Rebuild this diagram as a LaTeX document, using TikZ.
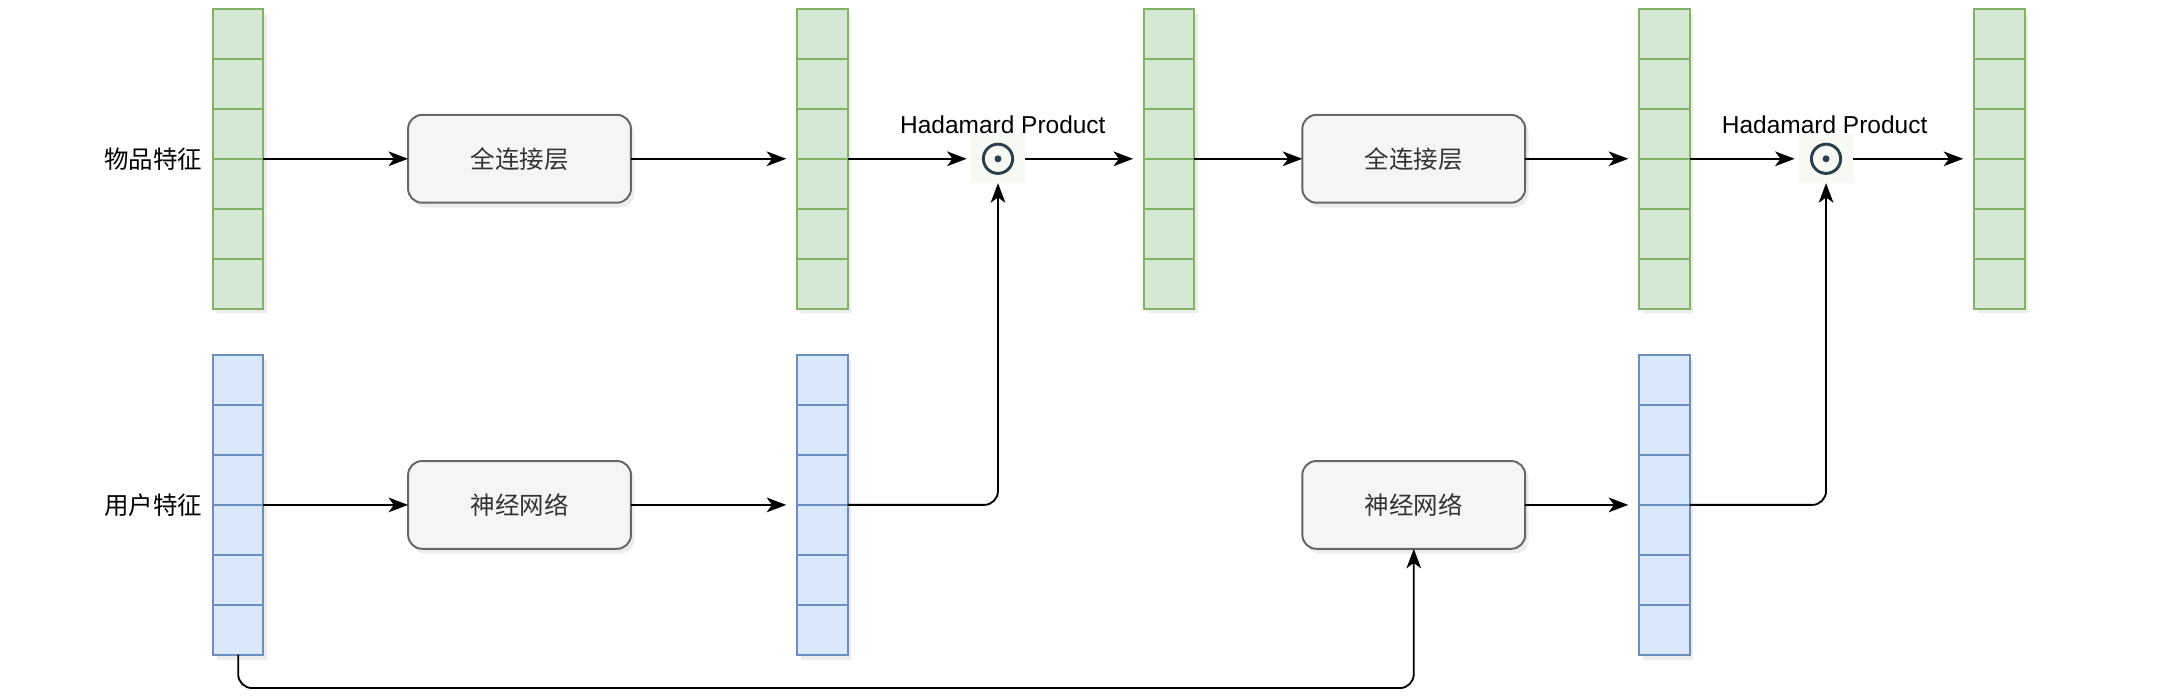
\documentclass[tikz,border=0pt]{standalone}
\usepackage{fontspec}
\setmainfont{Liberation Sans}
\newfontfamily\cjk{Noto Sans CJK SC}
\usetikzlibrary{arrows.meta,shadows}
\definecolor{gfill}{HTML}{D5E8D4}
\definecolor{gline}{HTML}{82B366}
\definecolor{bfill}{HTML}{DAE8FC}
\definecolor{bline}{HTML}{6C8EBF}
\definecolor{kfill}{HTML}{F5F5F5}
\definecolor{kline}{HTML}{666666}
\definecolor{ktext}{HTML}{333333}
\definecolor{odotc}{HTML}{2B3F4A}
\definecolor{odotbg}{HTML}{F7F9F5}
\tikzset{
  golge/.style={drop shadow={shadow xshift=0.05cm, shadow yshift=-0.07cm, opacity=0.15}},
  vec/.style={draw, line width=0.8pt, minimum width=0.72cm, minimum height=4.3cm,
    inner sep=0pt, outer sep=0pt, golge},
  gvec/.style={vec, draw=gline, fill=gfill},
  bvec/.style={vec, draw=bline, fill=bfill},
  katman/.style={draw=kline, fill=kfill, text=ktext, line width=0.8pt,
    rounded corners=0.2cm, minimum width=3.2cm, minimum height=1.26cm,
    outer sep=0pt, font=\cjk, golge},
  carpim/.style={fill=odotbg, minimum width=0.78cm, minimum height=0.7cm,
    inner sep=0pt, outer sep=0pt,
    path picture={
      \draw[odotc, line width=1.2pt] (path picture bounding box.center) circle (0.21cm);
      \fill[odotc] (path picture bounding box.center) circle (0.05cm);}},
  ok/.style={-{Stealth[length=8pt, width=6pt, inset=2.2pt]}, line width=0.75pt},
  okv/.style={ok, shorten >=0.16cm}
}
\begin{document}
\begin{tikzpicture}[font=\fontsize{10}{12}\selectfont]
  \useasboundingbox (0,0) rectangle (31.36,-10.02);
  % vektorler
  \node[gvec] (g1) at (3.42,-2.28) {};
  \node[gvec] (g2) at (11.81,-2.28) {};
  \node[gvec] (g3) at (16.79,-2.28) {};
  \node[gvec] (g4) at (23.90,-2.28) {};
  \node[gvec] (g5) at (28.71,-2.28) {};
  \node[bvec] (b1) at (3.42,-7.25) {};
  \node[bvec] (b2) at (11.81,-7.25) {};
  \node[bvec] (b3) at (23.90,-7.25) {};
  \foreach \v/\c in {g1/gline,g2/gline,g3/gline,g4/gline,g5/gline,b1/bline,b2/bline,b3/bline}
    \foreach \k in {1,...,5}
      \draw[\c, line width=0.8pt] ([yshift=-\k*0.7167cm]\v.north west)
        -- ([yshift=-\k*0.7167cm]\v.north east);
  % girdiler
  \node (lg) at (2.2,-2.28) {\cjk 物品特征};
  \node (lb) at (2.2,-7.25) {\cjk 用户特征};
  % katmanlar
  \node[katman] (fc1) at (7.46,-2.28) {全连接层};
  \node[katman] (nn1) at (7.46,-7.25) {神经网络};
  \node[katman] (fc2) at (20.30,-2.28) {全连接层};
  \node[katman] (nn2) at (20.30,-7.25) {神经网络};
  % hadamard carpimi
  \node[carpim] (h1) at (14.33,-2.28) {};
  \node[carpim] (h2) at (26.22,-2.28) {};
  \node (t1) at (14.40,-1.79) {Hadamard Product};
  \node (t2) at (26.20,-1.79) {Hadamard Product};
  % oklar
  \draw[ok] (g1.east) -- (fc1.west);
  \draw[okv] (fc1.east) -- (fc1.east -| g2.west);
  \draw[ok, shorten >=0.06cm] (g2.east) -- (h1.west);
  \draw[okv] (h1.east) -- (h1.east -| g3.west);
  \draw[ok] (g3.east) -- (fc2.west);
  \draw[okv] (fc2.east) -- (fc2.east -| g4.west);
  \draw[ok, shorten >=0.06cm] (g4.east) -- (h2.west);
  \draw[okv] (h2.east) -- (h2.east -| g5.west);
  \draw[ok] (b1.east) -- (nn1.west);
  \draw[okv] (nn1.east) -- (nn1.east -| b2.west);
  \draw[okv] (nn2.east) -- (nn2.east -| b3.west);
  \draw[ok, rounded corners=0.2cm] (b2.east) -| (h1.south);
  \draw[ok, rounded corners=0.2cm] (b3.east) -| (h2.south);
  \draw[ok, rounded corners=0.2cm] (b1.south) -- ++(0,-0.48) -| (nn2.south);
\end{tikzpicture}
\end{document}
